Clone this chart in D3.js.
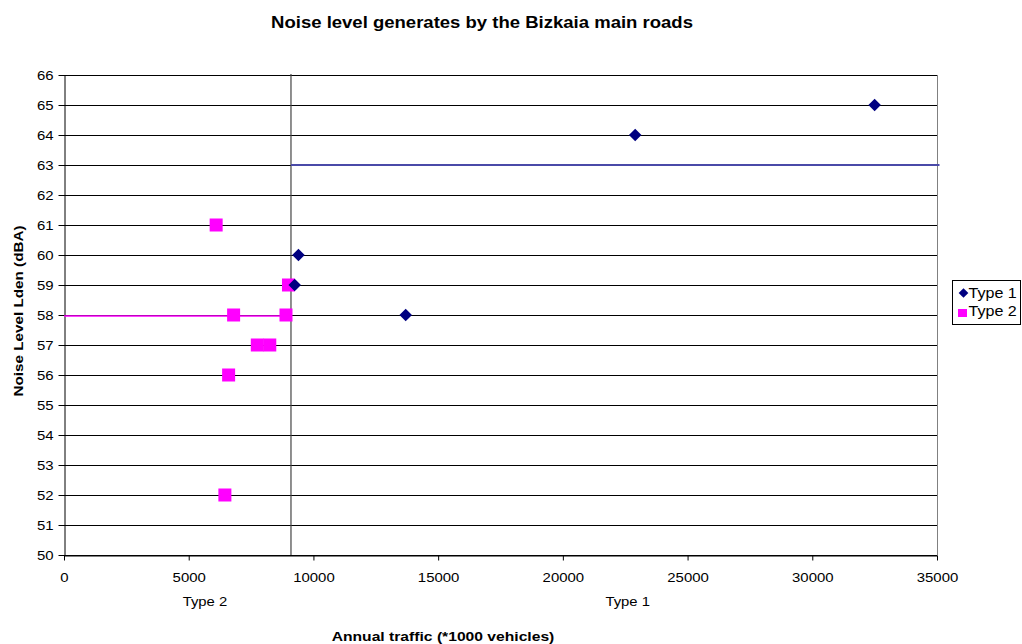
<!DOCTYPE html>
<html><head><meta charset="utf-8">
<script src="https://cdn.jsdelivr.net/npm/d3@7"></script>
<style>body{margin:0;background:#fff;font-family:"Liberation Sans",Arial,sans-serif}</style>
</head><body>
<svg id="c" width="1022" height="644"></svg>
<script>
const type1 = [[32500,65],[22900,64],[9400,60],[9250,59],[13700,58]];
const type2 = [[6100,61],[9000,59],[6800,58],[8900,58],[7750,57],[8250,57],[6600,56],[6450,52]];
const refLineType1 = [[9100,63],[35100,63]];
const refLineType2 = [[0,58],[9100,58]];
const dividerX = 9100;
const xTicks = [0,5000,10000,15000,20000,25000,30000,35000];
const yTicks = d3.range(50,67,1);
const groupLabels = [["Type 2",5650],["Type 1",22600]];

const svg = d3.select("#c");
const font="Liberation Sans, Arial, sans-serif";
const L=64,R=937,T=75,B=555;
const x=d3.scaleLinear().domain([0,35000]).range([L,R]);
const y=d3.scaleLinear().domain([50,66]).range([B,T]);

// stretched text helper
function stext(parent, tx, ty, str, size, bold, sx, anchor, rot){
  const g=parent.append("g").attr("transform",`translate(${tx},${ty})${rot?` rotate(${rot})`:""} scale(${sx},1)`);
  return g.append("text").attr("text-anchor",anchor||"middle").attr("font-family",font)
    .attr("font-size",size).attr("font-weight",bold?"bold":"normal").attr("fill","#000").text(str);
}

// gridlines
svg.append("g").selectAll("line").data(yTicks).join("line")
 .attr("x1",L).attr("x2",R).attr("y1",d=>y(d)+0.5).attr("y2",d=>y(d)+0.5)
 .attr("stroke","#000").attr("stroke-width",1);
svg.append("line").attr("x1",R+0.5).attr("x2",R+0.5).attr("y1",T).attr("y2",B).attr("stroke","#808080");

// axes
const xa=svg.append("g").attr("transform",`translate(0,${B+0.5})`)
 .call(d3.axisBottom(x).tickValues(xTicks).tickFormat(d3.format("d")).tickSize(5).tickSizeOuter(0));
const ya=svg.append("g").attr("transform",`translate(${L+0.5},0)`)
 .call(d3.axisLeft(y).tickValues(yTicks).tickSize(6).tickSizeOuter(0));
[xa,ya].forEach(a=>{a.selectAll("text").attr("font-family",font).attr("font-size",13).attr("fill","#000");
 a.selectAll("line,path").attr("stroke","#000");});
xa.selectAll("text").attr("y",27).attr("dy",0).attr("transform","scale(1.15,1)");
ya.selectAll("text").attr("x",-11/1.15).attr("transform","scale(1.15,1)");

// divider line
svg.append("line").attr("x1",x(dividerX)).attr("x2",x(dividerX)).attr("y1",T-1).attr("y2",B)
 .attr("stroke","#444").attr("stroke-width",1.2);

const line=d3.line().x(d=>x(d[0])).y(d=>y(d[1]));
svg.append("path").datum(refLineType1).attr("d",line).attr("stroke","#4a4aa8").attr("stroke-width",2).attr("fill","none");
svg.append("path").datum(refLineType2).attr("d",line).attr("stroke","#ff00ff").attr("stroke-width",1.5).attr("fill","none").attr("transform","translate(0,1)");

// points
svg.append("g").selectAll("rect").data(type2).join("rect")
 .attr("x",d=>x(d[0])-6.5).attr("y",d=>y(d[1])-6.5).attr("width",13).attr("height",13).attr("fill","#ff00ff");
svg.append("g").selectAll("path").data(type1).join("path")
 .attr("d",d3.symbol(d3.symbolDiamond2||d3.symbolDiamond,100))
 .attr("transform",d=>`translate(${x(d[0])},${y(d[1])})`)
 .attr("fill","#000080");

// titles
stext(svg,482,28,"Noise level generates by the Bizkaia main roads",17,true,1.09);
stext(svg,443,641,"Annual traffic (*1000 vehicles)",13.5,true,1.16);
stext(svg,23,311,"Noise Level Lden (dBA)",13.5,true,1.13,"middle",-90);
groupLabels.forEach(d=>stext(svg,x(d[1]),606,d[0],13.5,false,1.1));

// legend
const lg=svg.append("g").attr("transform","translate(952.5,280.5)");
lg.append("rect").attr("width",68).attr("height",44).attr("fill","#fff").attr("stroke","#000");
lg.append("path").attr("d",d3.symbol(d3.symbolDiamond2||d3.symbolDiamond,60)).attr("transform","translate(11,12.5)").attr("fill","#000080");
lg.append("rect").attr("x",5.5).attr("y",28.5).attr("width",9).attr("height",8).attr("fill","#ff00ff");
stext(lg,16,17,"Type 1",14,false,1.15,"start");
stext(lg,16,35,"Type 2",14,false,1.15,"start");
</script>
</body></html>
